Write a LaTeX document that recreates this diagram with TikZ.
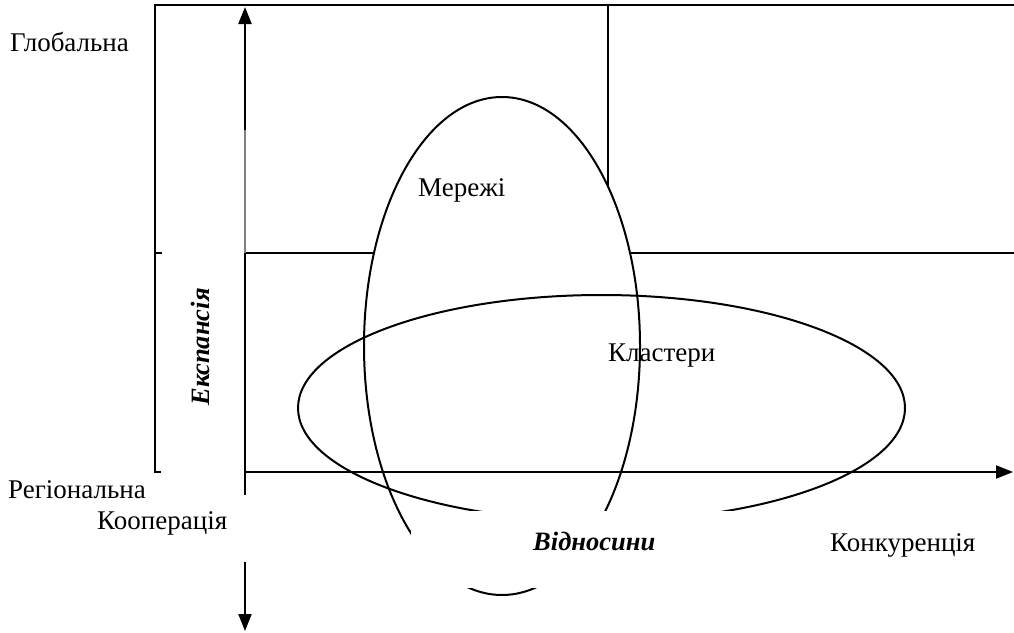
\documentclass[tikz,border=0pt]{standalone}
\usepackage{fontspec}
\setmainfont{Liberation Serif}
\usetikzlibrary{arrows.meta,shapes.geometric}
\begin{document}
\begin{tikzpicture}[x=1pt,y=-1pt,
  frameline/.style={line width=2.6pt},
  thinline/.style={line width=2pt},
  ell/.style={line width=2pt},
  tip/.style={-{Triangle[length=17pt,width=13pt]}},
  lbl/.style={font=\fontsize{27}{30}\selectfont,inner sep=0pt,anchor=west},
  blbl/.style={font=\fontsize{26.5}{30}\selectfont\bfseries\itshape,inner sep=0pt},
  mask/.style={fill=white,draw=none}]
\useasboundingbox (0,0) rectangle (1014,632);
% frame
\coordinate (fTL) at (155,5);
\coordinate (fTR) at (1014,5);
\coordinate (fBL) at (155,472);
\coordinate (fBt) at (161,472);
\coordinate (fMid) at (155,253);
\coordinate (fMidt) at (162,253);
\coordinate (hL) at (245,253);
\coordinate (hR) at (1014,253);
\coordinate (vT) at (608,5);
\coordinate (vB) at (608,253);
\draw[frameline] (fTR) -- (fTL) -- (fBL) -- (fBt);
\draw[thinline] (fMid) -- (fMidt);
\draw[thinline] (hL) -- (hR);
\draw[frameline] (vT) -- (vB);
% tall ellipse (filled white)
\node[ell,draw,fill=white,ellipse,minimum width=276pt,minimum height=498pt,inner sep=0pt] (net) at (502,346) {};
% wide ellipse
\node[ell,draw,ellipse,minimum width=607pt,minimum height=226pt,inner sep=0pt] (clu) at (601.5,408) {};
% horizontal axis
\coordinate (ax0) at (245,472);
\coordinate (axR) at (1013,472);
\draw[thinline,tip] (ax0) -- (axR);
% vertical axis
\coordinate (vaTop) at (245,7);
\coordinate (vaA) at (245,130);
\coordinate (vaB) at (245,253);
\coordinate (vaC) at (245,495);
\coordinate (vaD) at (245,562);
\coordinate (vaE) at (245,631);
\draw[line width=2.4pt,tip] (vaA) -- (vaTop);
\draw[line width=1.2pt,gray] (vaA) -- (vaB);
\draw[thinline] (vaB) -- (vaC);
\draw[thinline,tip] (vaD) -- (vaE);
% white text box masking lower part
\fill[mask] (411,511) rectangle (737,588);
% labels
\node[lbl] (glob) at (10,42) {Глобальна};
\node[lbl] (reg) at (8,490) {Регіональна};
\node[lbl] (coop) at (97,523) {Кооперація};
\node[lbl] (conc) at (830,545) {Конкуренція};
\node[lbl] (mer) at (418,190) {Мережі};
\node[lbl] (kl) at (608,356) {Кластери};
\node[blbl,anchor=west] (vid) at (533,541) {Відносини};
\node[blbl,rotate=90] (exp) at (200,347) {Експансія};
\end{tikzpicture}
\end{document}
